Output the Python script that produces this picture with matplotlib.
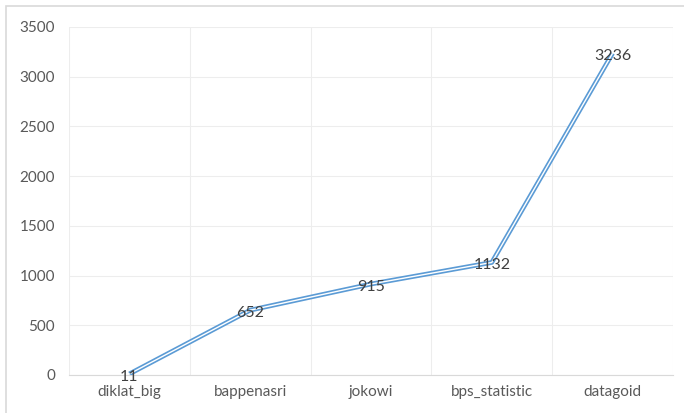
import matplotlib
matplotlib.use("Agg")
import matplotlib.pyplot as plt
from matplotlib.patches import Rectangle

categories = ["diklat_big", "bappenasri", "jokowi", "bps_statistic", "datagoid"]
values = [11, 652, 915, 1132, 3236]
yticks = [0, 500, 1000, 1500, 2000, 2500, 3000, 3500]

W, H = 684, 413
fig = plt.figure(figsize=(W / 100, H / 100), dpi=100)
fig.patch.set_facecolor("white")

# chart border (top & left visible)
fig.add_artist(Rectangle((6 / W, -0.05), 1.2, (H - 6) / H + 0.05, transform=fig.transFigure,
                         fill=False, edgecolor="#D9D9D9", linewidth=1.2))

left, right, top, bottom = 69, 673, 27, 375
ax = fig.add_axes([left / W, 1 - bottom / H, (right - left) / W, (bottom - top) / H])

x = list(range(len(categories)))
ax.plot(x, values, color="#5B9BD5", linewidth=3.4, solid_capstyle="butt", zorder=3)
ax.plot(x, values, color="white", linewidth=1.0, solid_capstyle="butt", zorder=4)

for xi, v in zip(x, values):
    ax.annotate(str(v), (xi, v), xytext=(0, -2), textcoords="offset points",
                ha="center", va="center", fontsize=11.5, color="#404040",
                family="Lato", zorder=5, annotation_clip=False)

ax.set_xlim(-0.5, len(categories) - 0.5)
ax.set_ylim(0, 3500)
ax.set_yticks(yticks)
ax.set_yticklabels([str(t) for t in yticks])
ax.set_xticks(x)
ax.set_xticklabels(categories)
ax.set_xticks([i + 0.5 for i in range(-1, len(categories))], minor=True)

ax.grid(axis="y", which="major", color="#EDEDED", linewidth=0.8)
ax.grid(axis="x", which="minor", color="#EDEDED", linewidth=0.8)
ax.set_axisbelow(True)

for s in ["top", "right", "left"]:
    ax.spines[s].set_visible(False)
ax.spines["bottom"].set_color("#D9D9D9")
ax.spines["bottom"].set_linewidth(0.8)

ax.tick_params(axis="both", which="both", length=0)
ax.tick_params(axis="y", pad=10)
ax.tick_params(axis="x", pad=7)
for lab in ax.get_xticklabels() + ax.get_yticklabels():
    lab.set_fontfamily("Lato")
    lab.set_fontsize(11)
    lab.set_color("#595959")

fig.savefig("out.png", dpi=100, facecolor="white")
